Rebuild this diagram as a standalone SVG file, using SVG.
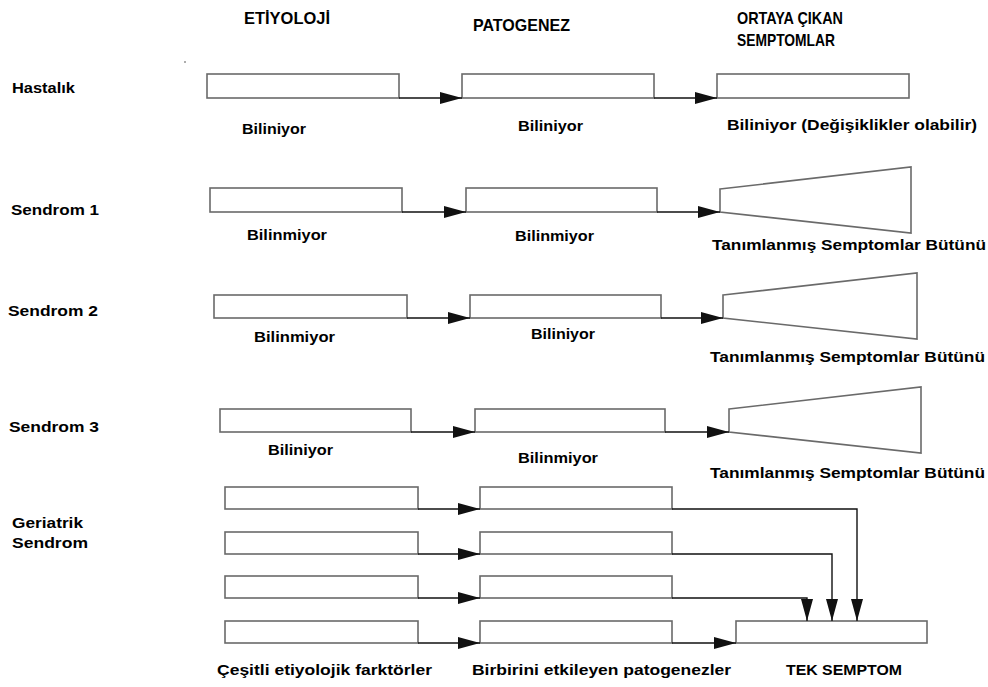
<svg xmlns="http://www.w3.org/2000/svg" width="988" height="687" viewBox="0 0 988 687">
<style>
.box{fill:#fff;stroke:#6a6a6a;stroke-width:1.6}
.ln{fill:none;stroke:#111;stroke-width:1.4;marker-end:url(#ah)}
.t{font-family:"Liberation Sans",Arial,sans-serif;font-weight:bold;font-size:15px;fill:#000}
.h{font-family:"Liberation Sans Narrow","Liberation Sans",Arial,sans-serif;font-weight:bold;font-size:17px;fill:#000}
</style>
<defs>
<marker id="ah" markerUnits="userSpaceOnUse" markerWidth="24" markerHeight="14" refX="22" refY="6" orient="auto">
<path d="M0,0 L22,6 L0,12 z" fill="#111"/>
</marker>
</defs>
<rect width="988" height="687" fill="#fff"/>
<circle cx="185" cy="62" r="0.8" fill="#444"/>

<g id="headers">
<text class="h" x="244" y="24" textLength="86" lengthAdjust="spacingAndGlyphs">ETİYOLOJİ</text>
<text class="h" x="473" y="31" textLength="97" lengthAdjust="spacingAndGlyphs">PATOGENEZ</text>
<text class="h" x="737" y="24" textLength="106" lengthAdjust="spacingAndGlyphs">ORTAYA ÇIKAN</text>
<text class="h" x="737" y="46" textLength="98" lengthAdjust="spacingAndGlyphs">SEMPTOMLAR</text>
</g>

<g id="row-labels">
<text class="t" x="12" y="93" textLength="63" lengthAdjust="spacingAndGlyphs">Hastalık</text>
<text class="t" x="11" y="215" textLength="88" lengthAdjust="spacingAndGlyphs">Sendrom 1</text>
<text class="t" x="8" y="316" textLength="90" lengthAdjust="spacingAndGlyphs">Sendrom 2</text>
<text class="t" x="9" y="432" textLength="90" lengthAdjust="spacingAndGlyphs">Sendrom 3</text>
<text class="t" x="12" y="528" textLength="71" lengthAdjust="spacingAndGlyphs">Geriatrik</text>
<text class="t" x="12" y="548" textLength="76" lengthAdjust="spacingAndGlyphs">Sendrom</text>
</g>

<g id="hastalik">
<rect class="box" x="207" y="74" width="192" height="24"/>
<rect class="box" x="462" y="74" width="192" height="24"/>
<rect class="box" x="717" y="74" width="192" height="24"/>
<text class="t" x="242" y="134" textLength="64" lengthAdjust="spacingAndGlyphs">Biliniyor</text>
<text class="t" x="518" y="131" textLength="65" lengthAdjust="spacingAndGlyphs">Biliniyor</text>
<text class="t" x="727" y="130" textLength="250" lengthAdjust="spacingAndGlyphs">Biliniyor (Değişiklikler olabilir)</text>
</g>

<g id="sendrom1">
<rect class="box" x="210" y="188" width="192" height="24"/>
<rect class="box" x="466" y="188" width="191" height="24"/>
<polygon class="box" points="720,189 911,167 911,233 720,212"/>
<text class="t" x="247" y="240" textLength="80" lengthAdjust="spacingAndGlyphs">Bilinmiyor</text>
<text class="t" x="515" y="241" textLength="79" lengthAdjust="spacingAndGlyphs">Bilinmiyor</text>
<text class="t" x="712" y="250" textLength="274" lengthAdjust="spacingAndGlyphs">Tanımlanmış Semptomlar Bütünü</text>
</g>

<g id="sendrom2">
<rect class="box" x="214" y="295" width="193" height="23"/>
<rect class="box" x="470" y="295" width="191" height="23"/>
<polygon class="box" points="723,295 917,273 917,339 723,318"/>
<text class="t" x="254" y="342" textLength="81" lengthAdjust="spacingAndGlyphs">Bilinmiyor</text>
<text class="t" x="531" y="339" textLength="64" lengthAdjust="spacingAndGlyphs">Biliniyor</text>
<text class="t" x="710" y="362" textLength="275" lengthAdjust="spacingAndGlyphs">Tanımlanmış Semptomlar Bütünü</text>
</g>

<g id="sendrom3">
<rect class="box" x="220" y="409" width="191" height="23"/>
<rect class="box" x="475" y="409" width="190" height="23"/>
<polygon class="box" points="729,409 921,387 921,453 729,432"/>
<text class="t" x="268" y="455" textLength="65" lengthAdjust="spacingAndGlyphs">Biliniyor</text>
<text class="t" x="518" y="463" textLength="80" lengthAdjust="spacingAndGlyphs">Bilinmiyor</text>
<text class="t" x="710" y="478" textLength="275" lengthAdjust="spacingAndGlyphs">Tanımlanmış Semptomlar Bütünü</text>
</g>

<g id="geriatrik">
<rect class="box" x="225" y="487" width="193" height="22"/>
<rect class="box" x="225" y="532" width="193" height="22"/>
<rect class="box" x="225" y="576" width="193" height="22"/>
<rect class="box" x="225" y="621" width="193" height="22"/>
<rect class="box" x="480" y="487" width="192" height="22"/>
<rect class="box" x="480" y="532" width="192" height="22"/>
<rect class="box" x="480" y="576" width="192" height="22"/>
<rect class="box" x="480" y="621" width="192" height="22"/>
<rect class="box" x="736" y="621" width="191" height="22"/>
<text class="t" x="217" y="675" textLength="215" lengthAdjust="spacingAndGlyphs">Çeşitli etiyolojik farktörler</text>
<text class="t" x="472" y="675" textLength="259" lengthAdjust="spacingAndGlyphs">Birbirini etkileyen patogenezler</text>
<text class="t" x="786" y="675" textLength="116" lengthAdjust="spacingAndGlyphs">TEK SEMPTOM</text>
</g>

<g id="connectors">
<path class="ln" d="M399,98 H462"/>
<path class="ln" d="M654,98 H717"/>
<path class="ln" d="M402,212 H466"/>
<path class="ln" d="M657,212 H720"/>
<path class="ln" d="M407,318 H470"/>
<path class="ln" d="M661,318 H723"/>
<path class="ln" d="M411,432 H475"/>
<path class="ln" d="M665,432 H729"/>
<path class="ln" d="M418,509 H480"/>
<path class="ln" d="M418,554 H480"/>
<path class="ln" d="M418,598 H480"/>
<path class="ln" d="M418,643 H480"/>
<path class="ln" d="M672,509 H857 V621"/>
<path class="ln" d="M672,554 H832 V621"/>
<path class="ln" d="M672,598 H807 V621"/>
<path class="ln" d="M672,643 H736"/>
</g>
</svg>
